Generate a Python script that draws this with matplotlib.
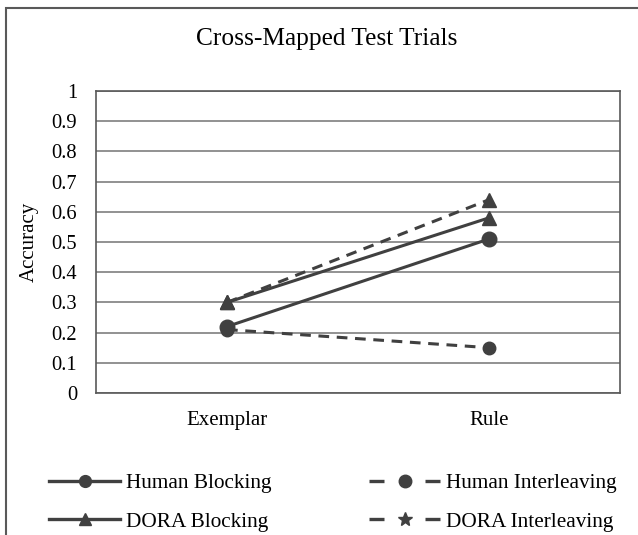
import matplotlib
matplotlib.use('Agg')
import matplotlib.pyplot as plt
from matplotlib.lines import Line2D
from matplotlib.patches import Rectangle

plt.rcParams['font.family'] = ['Liberation Serif', 'DejaVu Serif']

##### DATA #####
categories = ['Exemplar', 'Rule']
human_blocking = [0.22, 0.51]
human_interleaving = [0.21, 0.15]
dora_blocking = [0.30, 0.58]
dora_interleaving = [0.30, 0.64]
yticks = [0, 0.1, 0.2, 0.3, 0.4, 0.5, 0.6, 0.7, 0.8, 0.9, 1]
ytick_labels = ['0', '0.1', '0.2', '0.3', '0.4', '0.5', '0.6', '0.7', '0.8', '0.9', '1']

##### PLOT #####
line_col = '#404040'
grid_col = '#7f7f7f'

fig = plt.figure(figsize=(6.38, 5.35), dpi=100)
ax = fig.add_axes([96/638, 1 - 393/535, (620 - 96)/638, (393 - 91)/535])

x = list(range(len(categories)))
dash = (3.5, 2.5)
ax.plot(x, human_blocking, color=line_col, lw=2.2, marker='o', ms=10.5, zorder=3)
ax.plot(x, dora_blocking, color=line_col, lw=2.2, marker='^', ms=10.5, zorder=3)
ax.plot(x, human_interleaving, color=line_col, lw=2.2, marker='o', ms=9,
        dashes=dash, zorder=3)
ax.plot(x, dora_interleaving, color=line_col, lw=2.2, marker='^', ms=10.5,
        dashes=dash, zorder=3)

ax.set_xlim(-0.5, 1.5)
ax.set_ylim(0, 1)
ax.set_xticks(x)
ax.set_xticklabels(categories, fontsize=15)
ax.set_yticks(yticks)
ax.set_yticklabels(ytick_labels, fontsize=14.8)
ax.tick_params(length=0)
ax.tick_params(axis='y', pad=13.5)
ax.tick_params(axis='x', pad=13)
ax.yaxis.grid(True, color=grid_col, lw=1.2)
ax.set_axisbelow(True)
for s in ax.spines.values():
    s.set_color('#595959')
    s.set_linewidth(1.2)
ax.set_ylabel('Accuracy', fontsize=15, labelpad=9)

fig.text(327/638, 1 - 39/535, 'Cross-Mapped Test Trials', ha='center', va='center',
         fontsize=18.3)

# outer chart border (cropped at right and bottom)
fig.patches.append(Rectangle((6/638, -0.1), 1.2, 1 - 8/535 + 0.1,
                             transform=fig.transFigure, fill=False,
                             edgecolor='#595959', lw=1.5))

handles = [
    Line2D([], [], color=line_col, lw=2.4, marker='o', ms=8.5),
    Line2D([], [], color=line_col, lw=2.4, marker='^', ms=8.5),
    Line2D([], [], color=line_col, lw=2.4, marker='o', ms=9, dashes=(4.5, 12.3)),
    Line2D([], [], color=line_col, lw=2.4, marker='*', ms=10, dashes=(4.5, 12.3)),
]
labels = ['Human Blocking', 'DORA Blocking', 'Human Interleaving', 'DORA Interleaving']
fig.legend(handles, labels, ncol=2, loc='center', bbox_to_anchor=(0.522, 0.0607),
           frameon=False, fontsize=15.3, handlelength=3.34, handletextpad=0.28,
           columnspacing=4.6, labelspacing=0.86, borderpad=0)

fig.savefig('out.png', dpi=100)
